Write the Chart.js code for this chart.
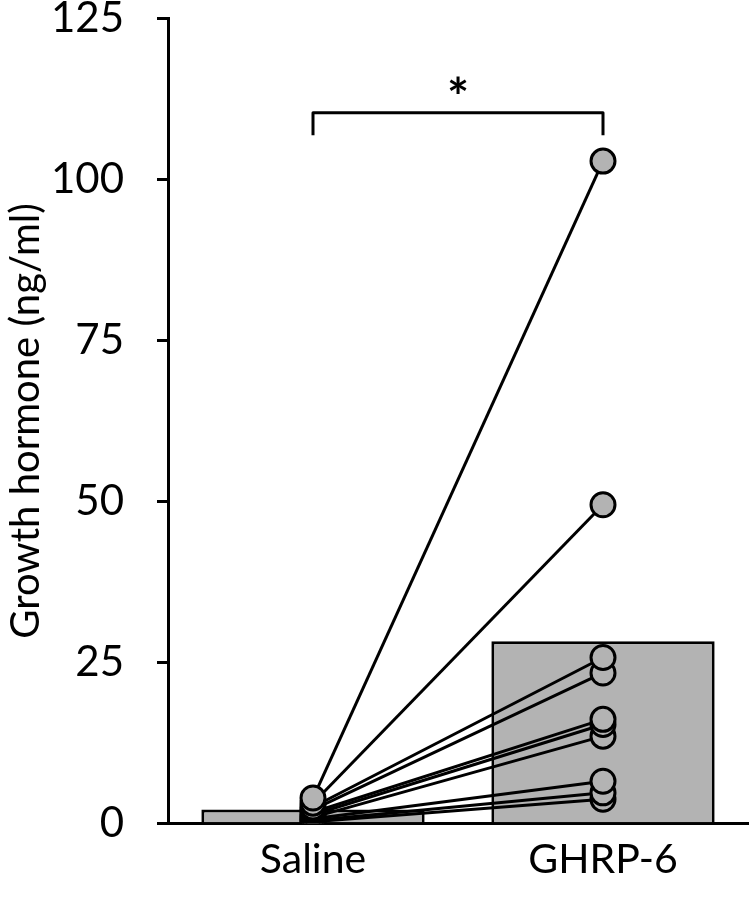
<!DOCTYPE html>
<html>
<head>
<meta charset="utf-8">
<script src="https://cdn.jsdelivr.net/npm/chart.js@4.4.1/dist/chart.umd.min.js"></script>
<style>
  html, body { margin: 0; padding: 0; background: #fff; overflow: hidden; }
  /* a bit wider than the window: the axis line runs out to the right edge */
  #wrap { width: 763px; height: 897px; }
</style>
</head>
<body>
<div id="wrap"><canvas id="ghChart"></canvas></div>
<script>
// data
const groups = ['Saline', 'GHRP-6'];
const groupMeans = [2.2, 28.3];
const salineVals = [4.0, 3.2, 2.6, 2.2, 1.8, 1.4, 1.0, 0.8, 0.5, 0.3];
const ghrpVals = [102.8, 49.5, 25.8, 23.4, 16.2, 15.4, 13.6, 6.6, 4.8, 3.8];
const yTicks = [0, 25, 50, 75, 100, 125];

const FONT = 'Lato, "Open Sans", sans-serif';

// one line per animal, saline -> GHRP-6
const pairSets = salineVals.map((s, i) => ({
    type: 'line',
    data: [s, ghrpVals[i]],
    borderColor: '#000',
    borderWidth: 3,
    pointRadius: 12,
    pointBackgroundColor: '#b3b3b3',
    pointBorderColor: '#000',
    pointBorderWidth: 3,
    fill: false,
    order: 1
}));

// significance bracket + asterisk
const bracketPlugin = {
    id: 'bracket',
    afterDatasetsDraw(chart) {
        const x = chart.scales.x, y = chart.scales.y;
        const ctx = chart.ctx;
        const x1 = x.getPixelForValue(0);
        const x2 = x.getPixelForValue(1);
        const yTop = y.getPixelForValue(110.3);
        const yBot = y.getPixelForValue(106.8);
        ctx.save();
        ctx.strokeStyle = '#000';
        ctx.lineWidth = 3;
        ctx.lineJoin = 'round';
        ctx.beginPath();
        ctx.moveTo(x1, yBot);
        ctx.lineTo(x1, yTop);
        ctx.lineTo(x2, yTop);
        ctx.lineTo(x2, yBot);
        ctx.stroke();
        ctx.fillStyle = '#000';
        ctx.font = 'bold 52px ' + FONT;
        ctx.textAlign = 'center';
        ctx.textBaseline = 'middle';
        ctx.fillText('*', (x1 + x2) / 2, y.getPixelForValue(112.4));
        ctx.restore();
    }
};

const ctx = document.getElementById('ghChart').getContext('2d');
new Chart(ctx, {
    data: {
        labels: groups,
        datasets: [
            {
                type: 'bar',
                data: groupMeans,
                backgroundColor: '#b3b3b3',
                borderColor: '#000',
                borderWidth: 3,
                categoryPercentage: 0.77,
                barPercentage: 1.0,
                order: 2
            },
            ...pairSets
        ]
    },
    options: {
        responsive: true,
        maintainAspectRatio: false,
        animation: false,
        layout: { padding: { top: 18, right: 0, bottom: 10, left: 0 } },
        plugins: {
            legend: { display: false },
            tooltip: { enabled: false }
        },
        scales: {
            x: {
                afterFit(scale) {
                    scale.paddingLeft = 0;
                    scale.paddingRight = 0;
                },
                grid: { display: false },
                border: { display: true, color: '#000', width: 3 },
                ticks: {
                    color: '#000',
                    padding: 3,
                    font: { family: FONT, size: 41 }
                }
            },
            y: {
                min: 0,
                max: 125,
                afterBuildTicks(scale) {
                    scale.ticks = yTicks.map(v => ({ value: v }));
                },
                afterFit(scale) {
                    scale.width = 168;
                    scale.paddingTop = 0;
                    scale.paddingBottom = 0;
                },
                grid: {
                    drawOnChartArea: false,
                    drawTicks: true,
                    tickLength: 11,
                    color: '#000',
                    lineWidth: 3
                },
                border: { display: true, color: '#000', width: 3 },
                ticks: {
                    color: '#000',
                    padding: 33,
                    font: { family: FONT, size: 42 }
                },
                title: {
                    display: true,
                    text: 'Growth hormone (ng/ml)',
                    color: '#000',
                    padding: { top: 2, bottom: 0 },
                    font: { family: FONT, size: 40 }
                }
            }
        }
    },
    plugins: [bracketPlugin]
});
</script>
</body>
</html>
